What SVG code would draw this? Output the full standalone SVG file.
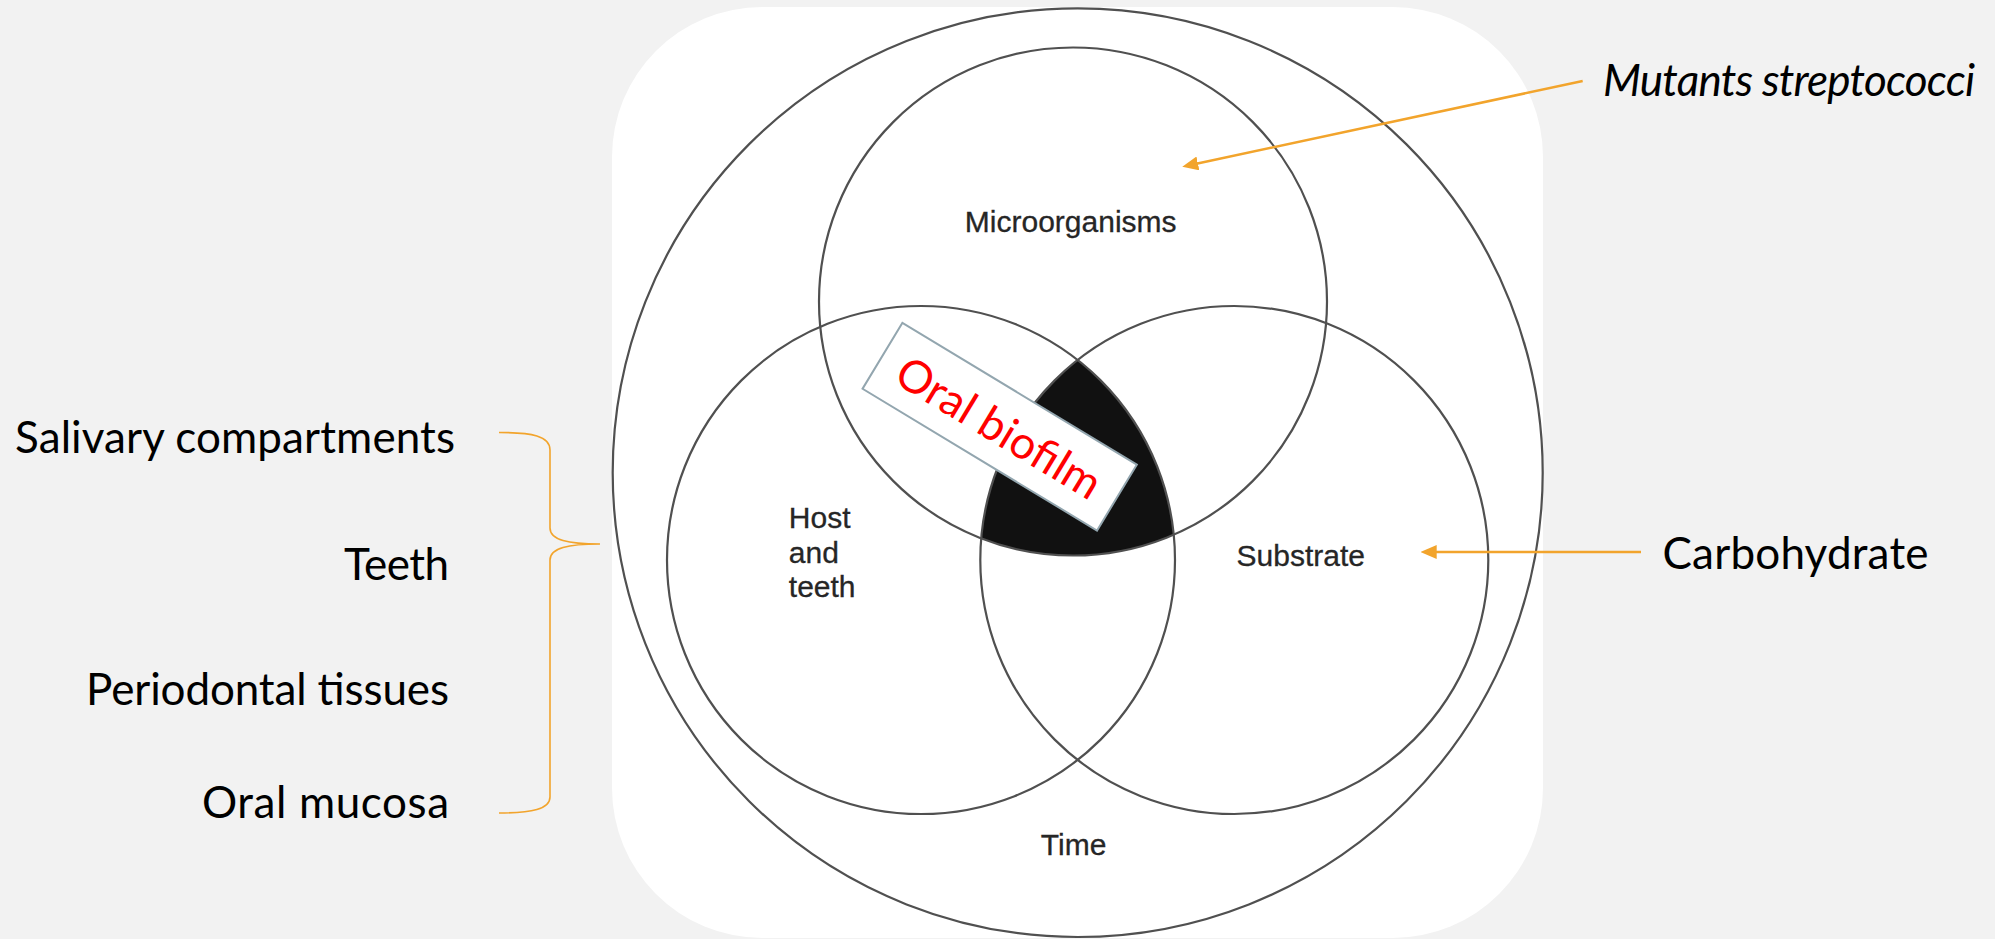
<svg xmlns="http://www.w3.org/2000/svg" width="1995" height="939" viewBox="0 0 1995 939">
  <style>
    .ring { fill: none; stroke: #505050; stroke-width: 2.2; }
    .venn { font-family: "Liberation Sans", Arial, sans-serif; font-size: 30px; fill: #262626; stroke: #262626; stroke-width: 0.3; }
    .lbl { font-family: Lato, "Open Sans", sans-serif; font-size: 44px; fill: #000000; }
    .arrow { fill: none; stroke: #F2A42C; stroke-width: 2.5; }
    .brace { fill: none; stroke: #F2A42C; stroke-width: 1.6; }
  </style>
  <defs>
    <marker id="head" markerUnits="userSpaceOnUse" markerWidth="16" markerHeight="14" viewBox="0 0 16 14" refX="4" refY="7" orient="auto">
      <path d="M0,0 L16,7 L0,14 z" fill="#F2A42C"/>
    </marker>
  </defs>

  <rect id="background" x="0" y="0" width="1995" height="939" fill="#F2F2F2"/>

  <g id="venn-frame">
    <rect x="612" y="7" width="931" height="931" rx="150" ry="150" fill="#FFFFFF"/>
  </g>

  <g id="overlap-core">
    <path d="M 1077.65,360.1 A 254 254 0 0 0 981.25,538.35 A 254 254 0 0 0 1173.7,534.65 A 254 254 0 0 0 1077.65,360.1 Z" fill="#111111"/>
  </g>

  <g id="time">
    <ellipse class="ring" cx="1077.7" cy="472.7" rx="465" ry="464.3"/>
    <text class="venn" x="1073.6" y="855" text-anchor="middle">Time</text>
  </g>
  <g id="microorganisms">
    <circle class="ring" cx="1073" cy="301.5" r="254"/>
    <text class="venn" x="1070.7" y="232" text-anchor="middle">Microorganisms</text>
  </g>
  <g id="host-and-teeth">
    <circle class="ring" cx="921" cy="560" r="254"/>
    <text class="venn" x="788.8" y="528">Host</text>
    <text class="venn" x="788.8" y="562.5">and</text>
    <text class="venn" x="788.8" y="597">teeth</text>
  </g>
  <g id="substrate">
    <circle class="ring" cx="1234.3" cy="560" r="254"/>
    <text class="venn" x="1236.6" y="565.5">Substrate</text>
  </g>

  <g id="oral-biofilm" transform="translate(999.7 426.7) rotate(31.16)">
    <rect x="-137" y="-38.5" width="274" height="77" fill="#FFFFFF" stroke="#93A6AF" stroke-width="2"/>
    <text x="0" y="17" text-anchor="middle" textLength="231" font-family="Lato, 'Open Sans', sans-serif" font-size="45" fill="#FF0000">Oral biofilm</text>
  </g>

  <g id="host-factors">
    <text class="lbl" x="15" y="453" textLength="440">Salivary compartments</text>
    <text class="lbl" x="344" y="580" textLength="105">Teeth</text>
    <text class="lbl" x="86" y="705" textLength="363">Periodontal tissues</text>
    <text class="lbl" x="202" y="818" textLength="247">Oral mucosa</text>
  </g>

  <g id="mutants-streptococci">
    <text class="lbl" x="1603" y="96" font-style="italic" textLength="372">Mutants streptococci</text>
  </g>

  <g id="carbohydrate">
    <text class="lbl" x="1662.5" y="569" textLength="266">Carbohydrate</text>
  </g>

  <g id="connectors">
    <line class="arrow" x1="1582.7" y1="81" x2="1194.0" y2="164.2" marker-end="url(#head)"/>
    <line class="arrow" x1="1641" y1="552" x2="1432.7" y2="552" marker-end="url(#head)"/>
    <path class="brace" d="M 499,432.5 C 532,432.5 550,436 550,450 L 550,528 C 550,540 568,544 600,544 C 568,544 550,548 550,560 L 550,797 C 550,809 532,813 499,813"/>
  </g>
</svg>
